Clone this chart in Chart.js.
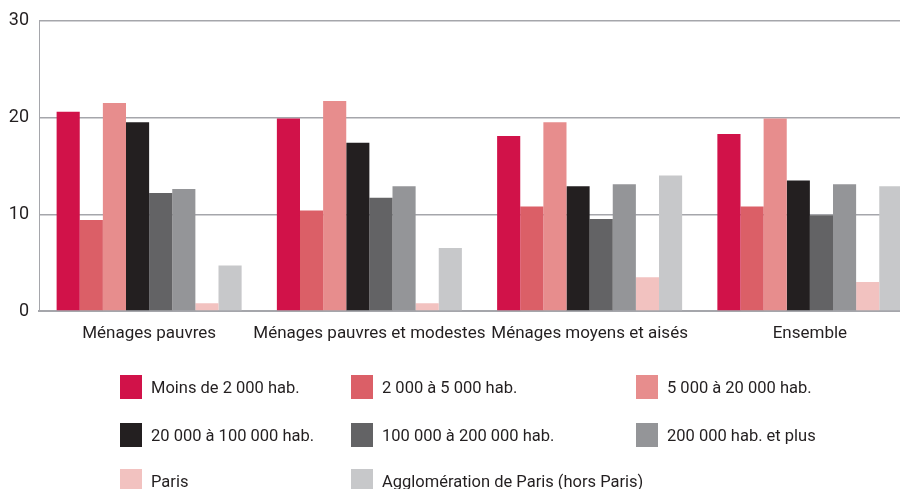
<!DOCTYPE html>
<html>
<head>
<meta charset="utf-8">
<script src="https://cdn.jsdelivr.net/npm/chart.js@4"></script>
<style>
  html, body { margin: 0; padding: 0; background: #fff; overflow: hidden; }
  body { width: 900px; height: 489px; position: relative; font-family: Roboto, sans-serif; }
  #wrap { position: absolute; left: 0; top: 0; width: 922px; height: 360px; }
  #legend { position: absolute; left: 0; top: 0; width: 900px; height: 489px; pointer-events: none; }
  .item { position: absolute; display: flex; align-items: center; font-size: 16.5px; color: #231f20; white-space: nowrap; }
  .box { width: 22px; height: 24px; margin-right: 9px; }
</style>
</head>
<body>
<div id="wrap"><canvas id="chart"></canvas></div>
<div id="legend"></div>
<script>
// categories (x axis)
const categories = ['Ménages pauvres', 'Ménages pauvres et modestes', 'Ménages moyens et aisés', 'Ensemble'];

// series names and colours
const seriesNames = [
  'Moins de 2 000 hab.',
  '2 000 à 5 000 hab.',
  '5 000 à 20 000 hab.',
  '20 000 à 100 000 hab.',
  '100 000 à 200 000 hab.',
  '200 000 hab. et plus',
  'Paris',
  'Agglomération de Paris (hors Paris)'
];
const seriesColors = ['#d11249', '#db5f67', '#e78d8d', '#231f20', '#636365', '#949598', '#f2c2c0', '#c7c8ca'];

// values per series, one per category
const moins2000 = [20.6, 19.9, 18.1, 18.3];
const de2000a5000 = [9.4, 10.4, 10.8, 10.8];
const de5000a20000 = [21.5, 21.7, 19.5, 19.9];
const de20000a100000 = [19.5, 17.4, 12.9, 13.5];
const de100000a200000 = [12.2, 11.7, 9.5, 9.9];
const plus200000 = [12.6, 12.9, 13.1, 13.1];
const paris = [0.8, 0.8, 3.5, 3.0];
const agglo = [4.7, 6.5, 14.0, 12.9];

const yTicks = [0, 10, 20, 30];

const seriesValues = [moins2000, de2000a5000, de5000a20000, de20000a100000, de100000a200000, plus200000, paris, agglo];

const fontFamily = 'Roboto, sans-serif';

const ctx = document.getElementById('chart').getContext('2d');
new Chart(ctx, {
  type: 'bar',
  data: {
    labels: categories,
    datasets: seriesNames.map((name, i) => ({
      label: name,
      data: seriesValues[i],
      backgroundColor: seriesColors[i],
      borderWidth: 0,
      categoryPercentage: 0.84,
      barPercentage: 1
    }))
  },
  options: {
    responsive: true,
    maintainAspectRatio: false,
    animation: false,
    layout: { padding: { top: 0, right: 2, left: 0, bottom: 0 } },
    plugins: {
      legend: { display: false },
      tooltip: { enabled: false }
    },
    scales: {
      x: {
        grid: { display: false, drawTicks: false },
        border: { display: true, color: '#a5a6ab', width: 2 },
        ticks: {
          color: '#231f20',
          font: { family: fontFamily, size: 17 },
          padding: 13,
          maxRotation: 0,
          autoSkip: false
        },
        afterFit: s => { s.height = 49; }
      },
      y: {
        min: 0,
        max: 30,
        afterBuildTicks: s => { s.ticks = yTicks.map(v => ({ value: v })); },
        grid: { color: '#a5a6ab', lineWidth: 1.5, drawTicks: false },
        border: { display: true, color: '#a5a6ab', width: 1 },
        ticks: {
          color: '#231f20',
          font: { family: fontFamily, size: 18 },
          padding: 10
        },
        afterFit: s => { s.width = 39; }
      }
    }
  }
});

// legend in 3 columns
const legendCols = [120, 351, 636];
const legendRows = [387, 435, 481];
const legend = document.getElementById('legend');
seriesNames.forEach((name, i) => {
  const item = document.createElement('div');
  item.className = 'item';
  item.style.left = legendCols[i % 3] + 'px';
  item.style.top = (legendRows[Math.floor(i / 3)] - 12) + 'px';
  item.innerHTML = `<span class="box" style="background:${seriesColors[i]}"></span><span>${name}</span>`;
  legend.appendChild(item);
});
</script>
</body>
</html>
